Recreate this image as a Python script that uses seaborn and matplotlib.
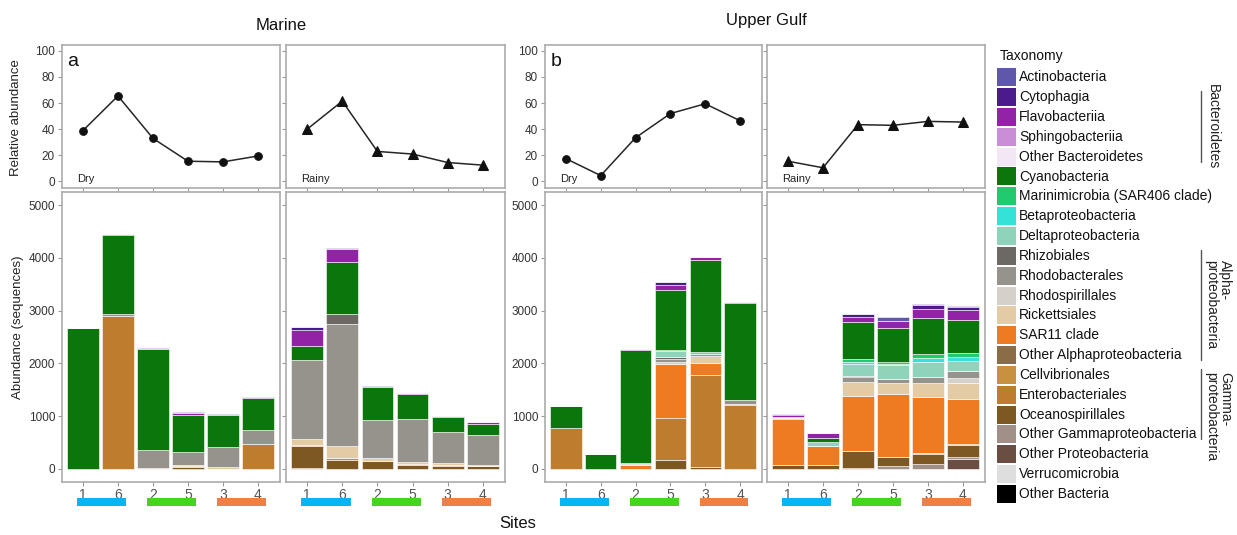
import numpy as np
import pandas as pd
import matplotlib
matplotlib.use("Agg")
import matplotlib.pyplot as plt
from matplotlib.patches import Rectangle
from matplotlib.lines import Line2D
from matplotlib.transforms import blended_transform_factory
import seaborn as sns

# ---------------------------------------------------------------- data
SITES = ["1", "6", "2", "5", "3", "4"]
PANELS = [("Marine", "Dry"), ("Marine", "Rainy"),
          ("Upper Gulf", "Dry"), ("Upper Gulf", "Rainy")]

# relative abundance (%) per site, in SITES order
REL_MARINE_DRY = [39, 65.5, 33, 15.5, 15, 19.5]
REL_MARINE_RAINY = [40, 61.5, 23, 21, 14.5, 12.5]
REL_GULF_DRY = [17.5, 4.5, 33.5, 52, 59.5, 46.5]
REL_GULF_RAINY = [15.5, 10.5, 43.5, 43, 46, 45.5]
RELATIVE = [REL_MARINE_DRY, REL_MARINE_RAINY, REL_GULF_DRY, REL_GULF_RAINY]

TAXA = ["Actinobacteria", "Cytophagia", "Flavobacteriia", "Sphingobacteriia",
        "Other Bacteroidetes", "Cyanobacteria", "Marinimicrobia (SAR406 clade)",
        "Betaproteobacteria", "Deltaproteobacteria", "Rhizobiales",
        "Rhodobacterales", "Rhodospirillales", "Rickettsiales", "SAR11 clade",
        "Other Alphaproteobacteria", "Cellvibrionales", "Enterobacteriales",
        "Oceanospirillales", "Other Gammaproteobacteria", "Other Proteobacteria",
        "Verrucomicrobia", "Other Bacteria"]
TAXON_COLORS = ["#5E57AA", "#4B1A8C", "#9323A6", "#C98ED6", "#F3E6F5",
                "#0B760B", "#1FCB6E", "#35E2D8", "#8FD3BA", "#6C6964",
                "#96928C", "#D5D1CA", "#E3CBA6", "#EE7B22", "#8A6D46",
                "#C8913F", "#BD7C2E", "#7E5822", "#A09088", "#6A4E44",
                "#DEDEDE", "#000000"]

# sequences per site: Marine Dry | Marine Rainy | Upper Gulf Dry | Upper Gulf Rainy
ACTINOBACTERIA = [0, 10, 10, 10, 10, 15,  0, 20, 5, 10, 5, 10,
                  0, 0, 5, 10, 10, 10,  0, 0, 0, 75, 20, 25]
CYTOPHAGIA = [0, 0, 0, 0, 0, 15,  50, 0, 0, 0, 0, 0,
              0, 0, 0, 58, 0, 0,  15, 0, 50, 0, 80, 65]
FLAVOBACTERIIA = [0, 15, 10, 40, 0, 0,  305, 240, 15, 15, 10, 30,
                  0, 0, 10, 82, 50, 10,  35, 80, 95, 140, 170, 190]
SPHINGOBACTERIIA = [0] * 24
OTHER_BACTEROIDETES = [0] * 24
CYANOBACTERIA = [2670, 1490, 1910, 695, 625, 610,  265, 980, 625, 475, 290, 200,
                 415, 284, 2145, 1150, 1750, 1840,  0, 75, 715, 650, 675, 620]
MARINIMICROBIA = [0, 0, 0, 0, 0, 0,  0, 0, 0, 0, 0, 0,
                  0, 0, 0, 10, 0, 0,  0, 0, 45, 30, 80, 75]
BETAPROTEOBACTERIA = [0, 0, 0, 0, 0, 0,  0, 0, 0, 0, 0, 0,
                      0, 0, 0, 10, 30, 0,  10, 15, 45, 30, 65, 75]
DELTAPROTEOBACTERIA = [0, 0, 0, 0, 0, 0,  0, 0, 0, 0, 0, 0,
                       0, 0, 0, 105, 0, 0,  20, 60, 220, 250, 285, 195]
RHIZOBIALES = [0, 0, 0, 0, 0, 0,  0, 200, 0, 0, 0, 0,
               0, 0, 0, 50, 0, 0,  0, 0, 30, 0, 0, 0]
RHODOBACTERALES = [0, 40, 330, 250, 365, 260,  1500, 2310, 720, 810, 580, 580,
                   0, 0, 25, 45, 50, 75,  15, 0, 85, 80, 115, 120]
RHODOSPIRILLALES = [0, 0, 0, 0, 0, 0,  0, 0, 0, 0, 0, 0,
                    0, 0, 0, 0, 0, 0,  0, 0, 0, 0, 0, 95]
RICKETTSIALES = [0, 0, 25, 15, 40, 0,  105, 220, 55, 45, 45, 25,
                 0, 0, 25, 45, 120, 0,  0, 0, 270, 215, 280, 310]
SAR11 = [0, 0, 0, 20, 0, 0,  25, 45, 0, 20, 20, 0,
         0, 0, 65, 1030, 245, 30,  880, 375, 1050, 1200, 1050, 845]
OTHER_ALPHA = [0] * 24
CELLVIBRIONALES = [0, 0, 0, 0, 0, 0,  0, 0, 0, 0, 0, 0,
                   0, 0, 0, 0, 0, 0,  0, 0, 0, 0, 0, 30]
ENTEROBACTERIALES = [0, 2900, 0, 0, 0, 470,  0, 0, 0, 0, 0, 0,
                     775, 0, 0, 790, 1730, 1205,  0, 0, 0, 0, 25, 0]
OCEANOSPIRILLALES = [0, 0, 0, 40, 0, 0,  420, 165, 145, 65, 50, 45,
                     0, 0, 0, 165, 40, 0,  65, 65, 305, 165, 190, 220]
OTHER_GAMMA = [0, 0, 0, 0, 0, 0,  15, 0, 0, 0, 0, 0,
               0, 0, 0, 0, 0, 0,  0, 0, 25, 50, 90, 50]
OTHER_PROTEOBACTERIA = [0, 0, 0, 0, 0, 0,  0, 0, 0, 0, 0, 0,
                        0, 0, 0, 0, 0, 0,  0, 0, 0, 0, 0, 180]
VERRUCOMICROBIA = [0] * 24
OTHER_BACTERIA = [0] * 24

ABUNDANCE = [ACTINOBACTERIA, CYTOPHAGIA, FLAVOBACTERIIA, SPHINGOBACTERIIA,
             OTHER_BACTEROIDETES, CYANOBACTERIA, MARINIMICROBIA,
             BETAPROTEOBACTERIA, DELTAPROTEOBACTERIA, RHIZOBIALES,
             RHODOBACTERALES, RHODOSPIRILLALES, RICKETTSIALES, SAR11,
             OTHER_ALPHA, CELLVIBRIONALES, ENTEROBACTERIALES, OCEANOSPIRILLALES,
             OTHER_GAMMA, OTHER_PROTEOBACTERIA, VERRUCOMICROBIA, OTHER_BACTERIA]

SITE_GROUPS = [("1", "6"), ("2", "5"), ("3", "4")]
GROUP_COLORS = ["#0AB4F0", "#47D41E", "#EE8046"]

TAXON_GROUPS = [("Bacteroidetes", "Cytophagia", "Other Bacteroidetes"),
                ("Alpha-\nproteobacteria", "Rhizobiales", "Other Alphaproteobacteria"),
                ("Gamma-\nproteobacteria", "Cellvibrionales", "Other Gammaproteobacteria")]

# long-form tables
rows = []
for p, (region, season) in enumerate(PANELS):
    for s, site in enumerate(SITES):
        for t, taxon in enumerate(TAXA):
            rows.append(dict(region=region, season=season, site=site, pos=s,
                             taxon=taxon, count=ABUNDANCE[t][p * 6 + s]))
abund = pd.DataFrame(rows)
rel = pd.DataFrame([dict(region=r, season=se, site=site, pos=s, value=RELATIVE[p][s])
                    for p, (r, se) in enumerate(PANELS) for s, site in enumerate(SITES)])

# ---------------------------------------------------------------- style
sns.set_theme(style="white")
plt.rcParams["font.family"] = ["Liberation Sans", "DejaVu Sans"]

W, H = 1237, 535
fig = plt.figure(figsize=(W / 100, H / 100), dpi=100)


def px_axes(left, top, right, bottom):
    return fig.add_axes([left / W, 1 - bottom / H, (right - left) / W, (bottom - top) / H])


def fx(x):
    return x / W


def fy(y):
    return 1 - y / H


SPINE = "#ABABAB"
COLUMNS = [(62, 280), (286, 505), (545, 762), (767, 985)]
XLIM = (-0.6, 5.63)


def style_axes(ax, show_left):
    for sp in ax.spines.values():
        sp.set_color(SPINE)
        sp.set_linewidth(1.2)
    ax.tick_params(axis="both", which="both", direction="out", length=3,
                   width=0.8, color="#9A9A9A", labelsize=8.5, labelcolor="#333333",
                   left=True, bottom=True, pad=2)
    ax.tick_params(axis="y", labelleft=show_left)
    ax.set_xlim(*XLIM)
    ax.set_xlabel("")
    ax.set_ylabel("")


for p, ((region, season), (x0, x1)) in enumerate(zip(PANELS, COLUMNS)):
    # relative abundance line
    ax_l = px_axes(x0, 45, x1, 188)
    sub = rel[(rel.region == region) & (rel.season == season)]
    marker = "o" if season == "Dry" else "^"
    sns.lineplot(data=sub, x="pos", y="value", ax=ax_l, color="#262626",
                 linewidth=1.1, marker=marker, markersize=5.5 if marker == "o" else 6.5,
                 markeredgecolor="#111111", markerfacecolor="#111111")
    style_axes(ax_l, show_left=(season == "Dry"))
    ax_l.set_ylim(-5, 104.5)
    ax_l.set_yticks([0, 20, 40, 60, 80, 100])
    ax_l.set_xticks(range(len(SITES)))
    ax_l.tick_params(axis="x", labelbottom=False)
    ax_l.text(-0.17, 1.8, season, ha="left", va="center", fontsize=8, color="#222222")
    if season == "Dry":
        ax_l.text(-0.45, 92, "a" if region == "Marine" else "b", ha="left",
                  va="center", fontsize=14, color="#111111")

    # stacked abundance bars, bottom layer = last taxon
    ax_b = px_axes(x0, 192, x1, 482)
    sub = abund[(abund.region == region) & (abund.season == season)]
    bottom = np.zeros(len(SITES))
    for taxon, color in zip(TAXA[::-1], TAXON_COLORS[::-1]):
        vals = sub[sub.taxon == taxon].sort_values("pos")["count"].to_numpy(float)
        if vals.sum() == 0:
            continue
        ax_b.bar(np.arange(len(SITES)), vals, bottom=bottom, width=0.9,
                 color=color, edgecolor="white", linewidth=0.4)
        bottom += vals
    style_axes(ax_b, show_left=(season == "Dry"))
    ax_b.set_ylim(-250, 5250)
    ax_b.set_yticks(range(0, 5001, 1000))
    ax_b.set_xticks(range(len(SITES)))
    ax_b.set_xticklabels(SITES)
    ax_b.tick_params(axis="x", labelsize=10, labelcolor="#555555", pad=1)

    # coloured site-group bars below the axis
    trans = blended_transform_factory(ax_b.transData, ax_b.transAxes)
    for (a, b), gc in zip(SITE_GROUPS, GROUP_COLORS):
        i0, i1 = SITES.index(a), SITES.index(b)
        ax_b.add_patch(Rectangle((i0 - 0.16, -0.084), (i1 - i0) + 0.40, 0.028,
                                 transform=trans, clip_on=False, facecolor=gc,
                                 edgecolor="none"))

# titles and axis labels
fig.text(fx(281), fy(25), "Marine", ha="center", va="center", fontsize=12, color="#111111")
fig.text(fx(766), fy(21), "Upper Gulf", ha="center", va="center", fontsize=12, color="#111111")
fig.text(fx(16), fy(118), "Relative abundance", rotation=90, ha="center", va="center",
         fontsize=9.5, color="#222222")
fig.text(fx(18), fy(327), "Abundance (sequences)", rotation=90, ha="center", va="center",
         fontsize=9.5, color="#222222")
fig.text(fx(518), fy(523), "Sites", ha="center", va="center", fontsize=12, color="#111111")

# taxonomy legend
fig.text(fx(1000), fy(56), "Taxonomy", ha="left", va="center", fontsize=10, color="#111111")
row_y = {}
for i, (taxon, color) in enumerate(zip(TAXA, TAXON_COLORS)):
    y = 77.3 + i * 19.84
    row_y[taxon] = y
    fig.add_artist(Rectangle((fx(997), fy(y + 9)), 19 / W, 18 / H,
                             transform=fig.transFigure, facecolor=color, edgecolor="none"))
    fig.text(fx(1019), fy(y), taxon, ha="left", va="center", fontsize=10, color="#111111")

# brackets naming the higher taxonomic groups
for label, first, last in TAXON_GROUPS:
    y0, y1 = row_y[first] - 6, row_y[last] + 5
    fig.add_artist(Line2D([fx(1201), fx(1201)], [fy(y0), fy(y1)],
                          transform=fig.transFigure, color="#555555", linewidth=1))
    two_lines = "\n" in label
    xc = 1218 if two_lines else 1213
    yc = (y0 + y1) / 2 if not label.startswith("Gamma") else (y0 + y1) / 2 + 12
    fig.text(fx(xc), fy(yc), label, rotation=270, ha="center", va="center",
             multialignment="left", fontsize=10, color="#222222", linespacing=1.0)

fig.savefig("out.png", dpi=100)
